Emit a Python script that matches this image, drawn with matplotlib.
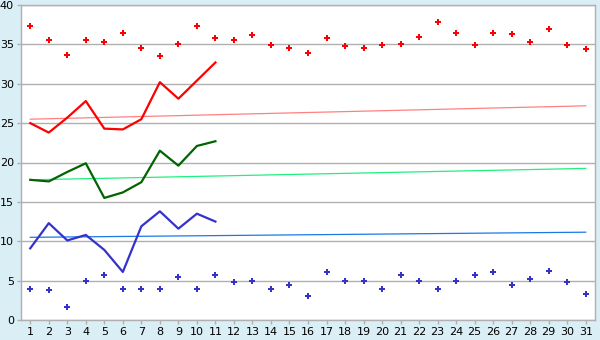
import numpy as np
import matplotlib.pyplot as plt

days = np.arange(1, 32)

# daily scattered points (upper and lower)
high_pts = [37.3, 35.6, 33.7, 35.6, 35.3, 36.4, 34.5, 33.5, 35.1, 37.3,
            35.8, 35.5, 36.2, 34.9, 34.5, 33.9, 35.8, 34.8, 34.5, 34.9,
            35.0, 36.0, 37.8, 36.5, 34.9, 36.5, 36.3, 35.3, 37.0, 34.9, 34.4]
low_pts = [4.0, 3.8, 1.7, 5.0, 5.7, 3.9, 4.0, 3.9, 5.5, 3.9,
           5.7, 4.8, 5.0, 3.9, 4.4, 3.0, 6.1, 5.0, 4.9, 3.9,
           5.7, 5.0, 4.0, 5.0, 5.7, 6.1, 4.5, 5.2, 6.2, 4.8, 3.3]

# lines for the first 11 days
line_days = np.arange(1, 12)
red_line = [25.0, 23.8, 25.7, 27.8, 24.3, 24.2, 25.5, 30.2, 28.1, 30.4, 32.7]
green_line = [17.8, 17.6, 18.8, 19.9, 15.5, 16.2, 17.5, 21.5, 19.6, 22.1, 22.7]
blue_line = [9.1, 12.3, 10.1, 10.8, 8.9, 6.1, 11.9, 13.8, 11.6, 13.5, 12.5]

# trend lines (start, end)
trend_days = [1, 31]
red_trend = [25.5, 27.2]
green_trend = [17.8, 19.25]
blue_trend = [10.5, 11.15]

bg = '#daeef5'
grid_c = '#b0b0b0'

fig = plt.figure(figsize=(6, 3.4), dpi=100, facecolor=bg)
ax = fig.add_axes([21/600, 1 - 320/340, 574/600, 315/340])
ax.set_facecolor('white')

ax.plot(trend_days, red_trend, color='#ff8080', lw=0.9)
ax.plot(trend_days, green_trend, color='#20f080', lw=0.9)
ax.plot(trend_days, blue_trend, color='#1a78e8', lw=0.9)

ax.plot(line_days, red_line, color='#ff0000', lw=1.6)
ax.plot(line_days, green_line, color='#006400', lw=1.6)
ax.plot(line_days, blue_line, color='#3333cc', lw=1.6)

ax.plot(days, high_pts, 'P', color='#ff0000', ms=5, mew=0, ls='none')
ax.plot(days, low_pts, 'P', color='#3333cc', ms=5, mew=0, ls='none')

ax.set_xlim(0.5, 31.5)
ax.set_ylim(0, 40)
ax.set_xticks(days)
ax.set_yticks(np.arange(0, 41, 5))
ax.yaxis.grid(True, color=grid_c, lw=1)
ax.set_axisbelow(True)
for s in ax.spines.values():
    s.set_color(grid_c)
    s.set_linewidth(1)
ax.tick_params(axis='both', colors=grid_c, labelcolor='black', labelsize=8, length=3, width=1, pad=2)

fig.savefig('out.png', dpi=100, facecolor=bg)
